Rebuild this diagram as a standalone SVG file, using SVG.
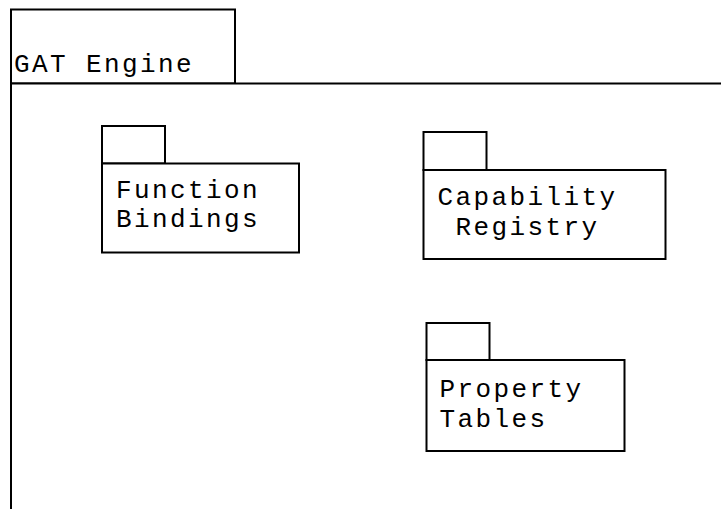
<svg xmlns="http://www.w3.org/2000/svg" width="721" height="509" viewBox="0 0 721 509">
  <style>
    .box { fill: #ffffff; stroke: #000000; stroke-width: 2; }
    .label { font-family: "Liberation Mono", "Courier New", monospace; font-size: 26px; letter-spacing: 2.4px; fill: #000000; white-space: pre; }
  </style>
  <rect width="721" height="509" fill="#ffffff"/>

  <!-- outer package: GAT Engine -->
  <g id="gat-engine">
    <rect class="box" x="11" y="9.5" width="224" height="74"/>
    <rect class="box" x="11" y="83.5" width="730" height="450"/>
    <text class="label" x="14" y="72">GAT Engine</text>
  </g>

  <g id="function-bindings">
    <rect class="box" x="102" y="126" width="63" height="37.5"/>
    <rect class="box" x="102" y="163.5" width="197" height="89"/>
    <text class="label" x="116" y="198">Function</text>
    <text class="label" x="116" y="227">Bindings</text>
  </g>

  <g id="capability-registry">
    <rect class="box" x="423.5" y="132" width="63" height="38"/>
    <rect class="box" x="423.5" y="170" width="242" height="89"/>
    <text class="label" x="437.5" y="204.5">Capability</text>
    <text class="label" x="437.5" y="234.5"> Registry</text>
  </g>

  <g id="property-tables">
    <rect class="box" x="426.5" y="323" width="63" height="37"/>
    <rect class="box" x="426.5" y="360" width="198" height="91"/>
    <text class="label" x="439.5" y="397">Property</text>
    <text class="label" x="439.5" y="427">Tables</text>
  </g>

  <g id="connectors"></g>
</svg>
